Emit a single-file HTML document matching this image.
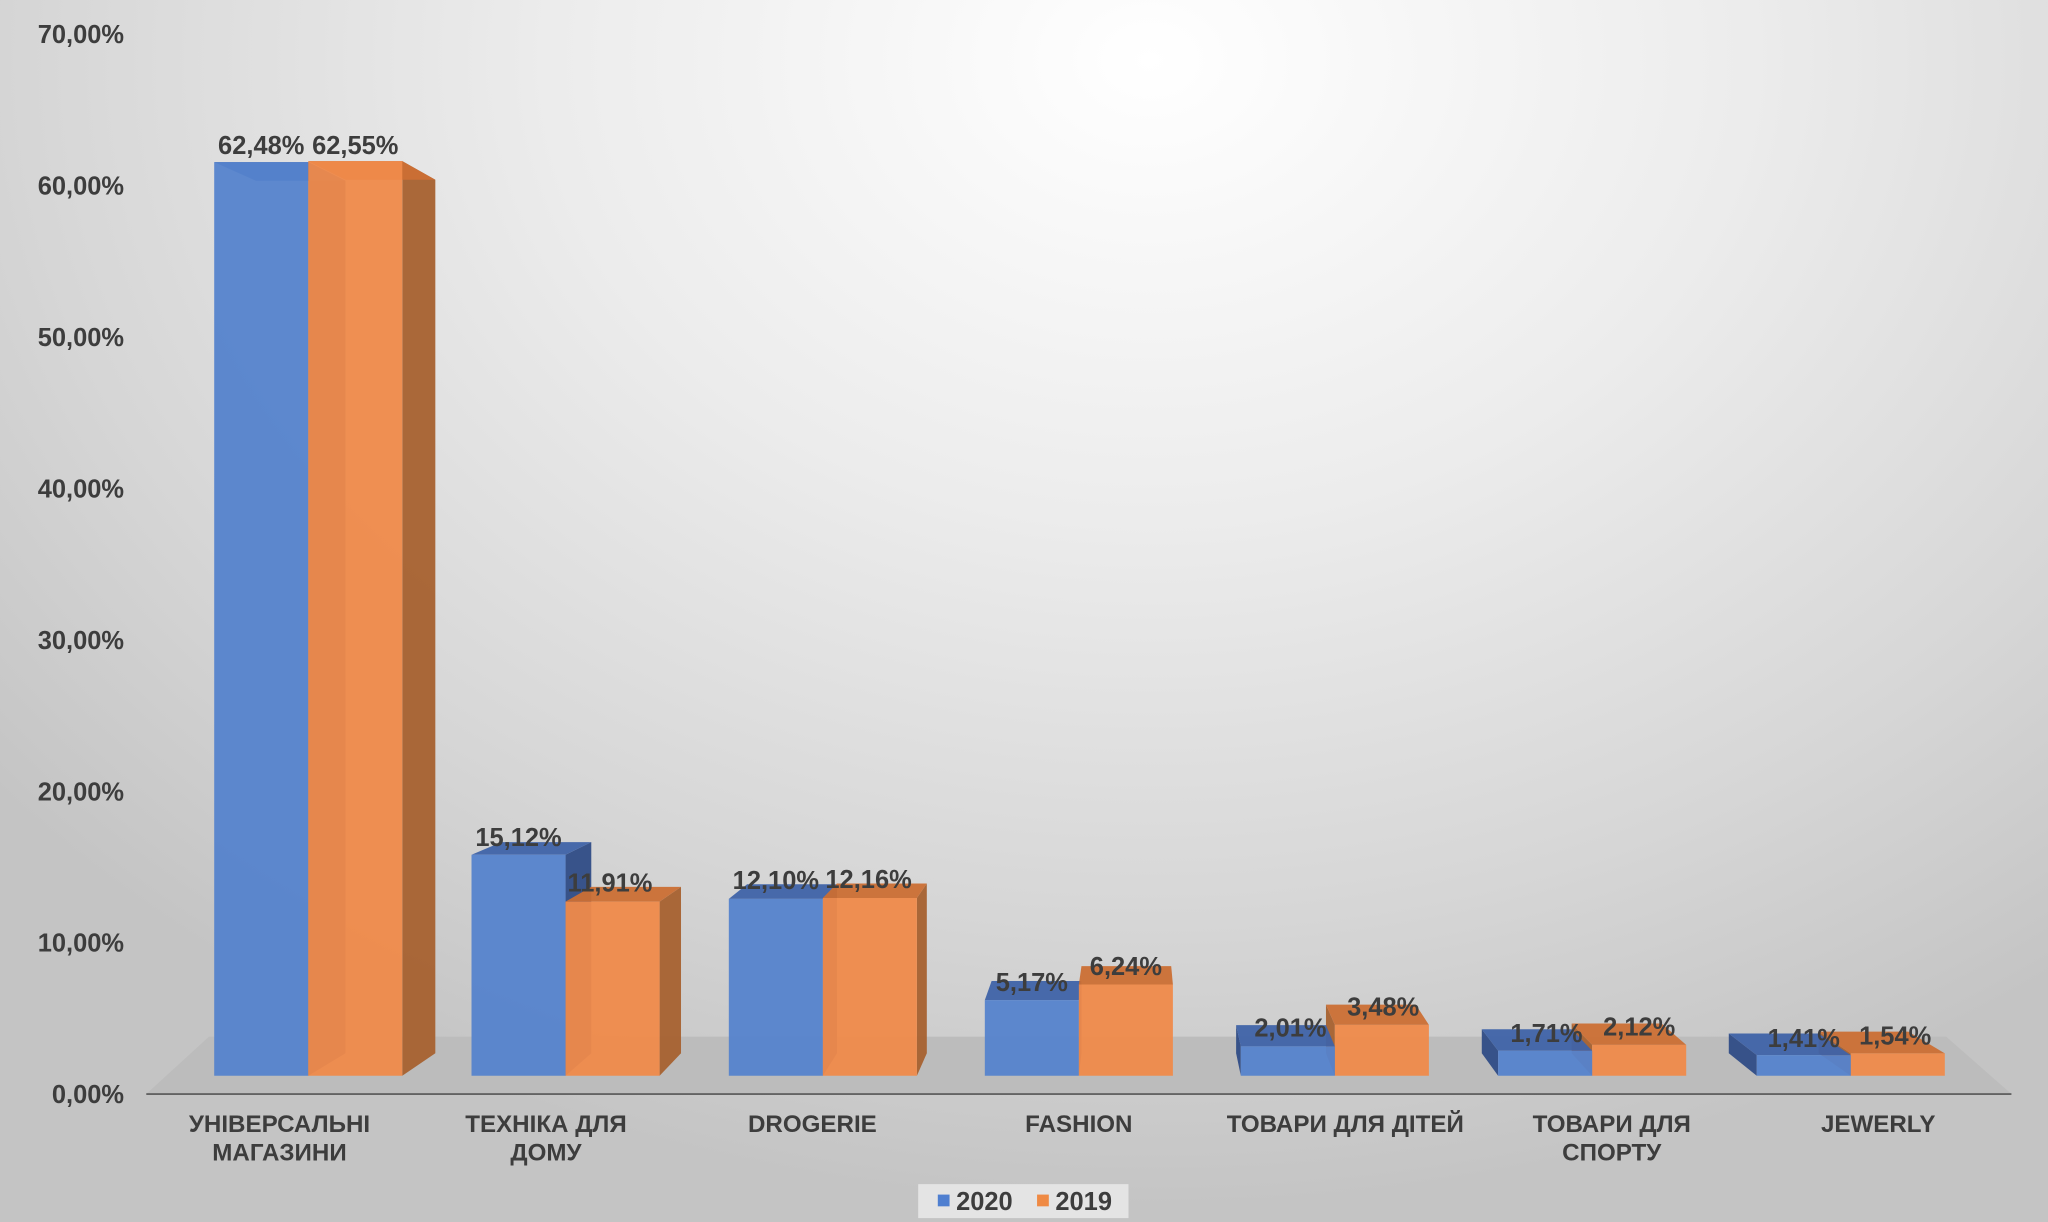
<!DOCTYPE html>
<html><head><meta charset="utf-8">
<style>
html,body{margin:0;padding:0;}
body{width:2048px;height:1222px;overflow:hidden;background:radial-gradient(ellipse 1500px 1150px at 1150px 60px,#ffffff 0%,#ececec 40%,#d6d6d6 75%,#c4c4c4 100%);}
svg{position:absolute;left:0;top:0;}
text{font-family:"Liberation Sans","DejaVu Sans",sans-serif;font-weight:bold;fill:#3d3d3d;}
</style></head>
<body>
<svg id="c" width="2048" height="1222" viewBox="0 0 1568 936" preserveAspectRatio="none">
<polygon points="112,838 1540,838 1490,794 160,794" fill="#bcbcbc"/>
<line x1="112" y1="838" x2="1540" y2="838" stroke="#555" stroke-width="1.2"/>
<g id="bars"></g>
<g font-size="19.5" text-anchor="end">
<text x="95" y="33">70,00%</text>
<text x="95" y="149">60,00%</text>
<text x="95" y="265">50,00%</text>
<text x="95" y="381">40,00%</text>
<text x="95" y="497">30,00%</text>
<text x="95" y="613">20,00%</text>
<text x="95" y="729">10,00%</text>
<text x="95" y="845">0,00%</text>
</g>
<g font-size="19.5" text-anchor="middle">
<text x="200" y="118">62,48%</text><text x="272" y="118">62,55%</text>
<text x="397" y="648">15,12%</text><text x="467" y="683">11,91%</text>
<text x="594" y="681">12,10%</text><text x="665" y="680">12,16%</text>
<text x="790" y="759">5,17%</text><text x="862" y="747">6,24%</text>
<text x="988" y="794">2,01%</text><text x="1059" y="778">3,48%</text>
<text x="1184" y="798">1,71%</text><text x="1255" y="793">2,12%</text>
<text x="1381" y="802">1,41%</text><text x="1451" y="800">1,54%</text>
</g>
<g font-size="18.5" text-anchor="middle">
<text x="214" y="867">УНІВЕРСАЛЬНІ</text><text x="214" y="889">МАГАЗИНИ</text>
<text x="418" y="867">ТЕХНІКА ДЛЯ</text><text x="418" y="889">ДОМУ</text>
<text x="622" y="867">DROGERIE</text>
<text x="826" y="867">FASHION</text>
<text x="1030" y="867">ТОВАРИ ДЛЯ ДІТЕЙ</text>
<text x="1234" y="867">ТОВАРИ ДЛЯ</text><text x="1234" y="889">СПОРТУ</text>
<text x="1438" y="867">JEWERLY</text>
</g>
<rect x="703" y="907" width="161" height="26" fill="#e4e4e4"/>
<rect x="718" y="915" width="9" height="9" fill="#4f7fd0"/>
<text x="732" y="927" font-size="19.5">2020</text>
<rect x="794" y="915" width="9" height="9" fill="#ef8a44"/>
<text x="808" y="927" font-size="19.5">2019</text>
</svg>
<script>
var g=document.getElementById('bars');
var VP=[870,440],k=0.045,base=824,sc=11.2;
var groups=[[164,62.48,62.55],[361,15.12,11.91],[558,12.10,12.16],[754,5.17,6.24],[950,2.01,3.48],[1147,1.71,2.12],[1345,1.41,1.54]];
function bk(p){return [p[0]+k*(VP[0]-p[0]),p[1]+k*(VP[1]-p[1])];}
function poly(pts,fill,op){var e=document.createElementNS('http://www.w3.org/2000/svg','polygon');
e.setAttribute('points',pts.map(function(p){return p[0].toFixed(1)+','+p[1].toFixed(1)}).join(' '));
e.setAttribute('fill',fill);e.setAttribute('fill-opacity',op);g.appendChild(e);}
var C=[{f:'#5583cc',t:'#3f63a8',s:'#2f4c86'},{f:'#ef8a4a',t:'#cb6f34',s:'#a7612f'}];
function bar(x0,v,c){var x1=x0+72,yt=base-v*sc;
var A=[x0,yt],B=[x1,yt],Cb=[x1,base],D=[x0,base];
var a=bk(A),b=bk(B),cc=bk(Cb),d=bk(D);
if(x1<VP[0]) poly([B,b,cc,Cb],c.s,0.95);
if(x0>VP[0]) poly([A,a,d,D],c.s,0.95);
poly([A,B,b,a],c.t,0.95);
poly([A,B,Cb,D],c.f,0.95);}
groups.forEach(function(gr){var x=gr[0];
if(x+144<VP[0]+40){bar(x,gr[1],C[0]);bar(x+72,gr[2],C[1]);}
else{bar(x+72,gr[2],C[1]);bar(x,gr[1],C[0]);}});
</script>
</body></html>
